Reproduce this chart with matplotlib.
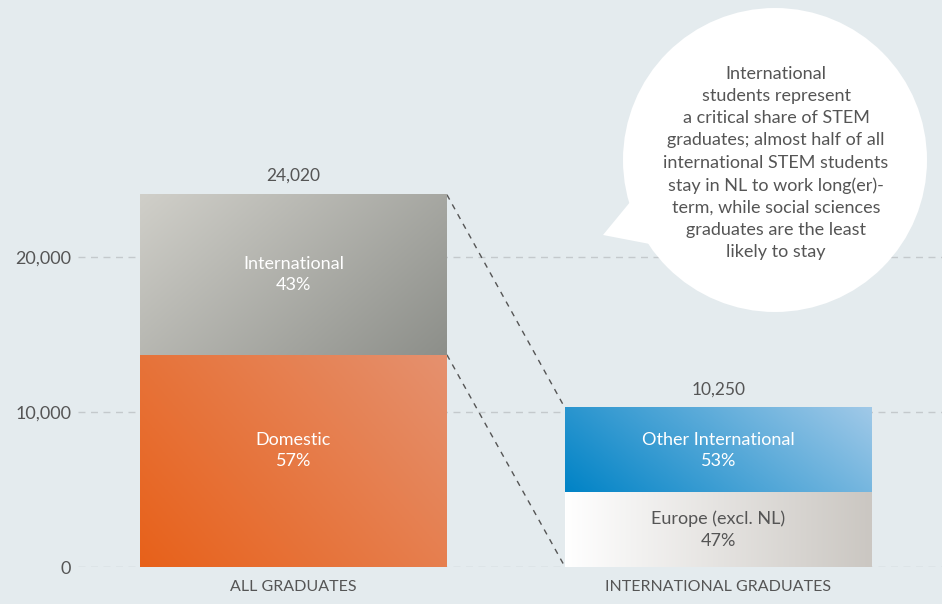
import numpy as np
import matplotlib.pyplot as plt
from matplotlib.patches import Ellipse, Polygon
from matplotlib.colors import LinearSegmentedColormap

plt.rcParams['font.family'] = ['Lato', 'DejaVu Sans']

categories = ["ALL GRADUATES", "INTERNATIONAL GRADUATES"]
totals = [24020, 10250]
bottom_labels = ["Domestic", "Europe (excl. NL)"]
top_labels = ["International", "Other International"]
bottom_share = [57, 47]
top_share = [43, 53]
yticks = [0, 10000, 20000]
note = ("International\nstudents represent\na critical share of STEM\n"
        "graduates; almost half of all\ninternational STEM students\n"
        "stay in NL to work long(er)-\nterm, while social sciences\n"
        "graduates are the least\nlikely to stay")

bg = "#e4ebee"
txt = "#555555"
width = 0.722

fig = plt.figure(figsize=(9.42, 6.04), dpi=100, facecolor=bg)
ax = fig.add_axes([78/942, 37/604, 864/942, 567/604])
ax.set_facecolor(bg)
ax.set_xlim(-0.507, -0.507 + 864/425)
ax.set_ylim(0, 567/155*10000)
for s in ax.spines.values():
    s.set_visible(False)
ax.set_xticks([])
ax.set_yticks(yticks)
ax.set_yticklabels([f"{v:,}" for v in yticks], color=txt, fontsize=13)
ax.tick_params(axis='y', length=0, pad=5)
for v in yticks:
    ax.axhline(v, color="#c4c9cc", lw=1, ls=(0, (5, 4)), zorder=0)


def grad_bar(x0, y0, w, h, c0, c1, direction):
    n = 200
    xx, yy = np.meshgrid(np.linspace(0, 1, n), np.linspace(0, 1, n))
    dx, dy = direction
    t = xx * dx + yy * dy
    t = (t - t.min()) / (t.max() - t.min())
    cmap = LinearSegmentedColormap.from_list("g", [c0, c1])
    ax.imshow(t, cmap=cmap, extent=[x0, x0 + w, y0, y0 + h], origin='lower',
              aspect='auto', zorder=2, interpolation='bilinear')


grads = [
    (("#e8611a", "#e5916f", (1, 0.6)), ("#d0cfc9", "#8d8f8a", (1, -0.6))),
    (("#ffffff", "#cbc7c2", (1, 0)), ("#0083c6", "#a0c9e8", (1, 0.35))),
]
inner_col = [("white", "white"), (txt, "white")]

# label heights: segment centres; the domestic label sits level with "Other International"
mids = []
for i, tot in enumerate(totals):
    b = tot * bottom_share[i] / 100
    mids.append((b / 2, b + (tot - b) / 2))
label_y = [(mids[1][1], mids[0][1]), mids[1]]

for i, tot in enumerate(totals):
    b = tot * bottom_share[i] / 100
    x0 = i - width / 2
    (c0, c1, d0), (c2, c3, d1) = grads[i]
    grad_bar(x0, 0, width, b, c0, c1, d0)
    grad_bar(x0, b, width, tot - b, c2, c3, d1)
    ax.text(i, label_y[i][0], f"{bottom_labels[i]}\n{bottom_share[i]}%", ha='center',
            va='center', color=inner_col[i][0], fontsize=13, linespacing=1.4, zorder=3)
    ax.text(i, label_y[i][1], f"{top_labels[i]}\n{top_share[i]}%", ha='center',
            va='center', color=inner_col[i][1], fontsize=13, linespacing=1.4, zorder=3)
    ax.text(i, tot + 700, f"{tot:,}", ha='center', va='bottom', color=txt, fontsize=12.5)
    ax.text(i, -1300, categories[i], ha='center', va='center', color=txt, fontsize=11.5)

# connector lines
b0 = totals[0] * bottom_share[0] / 100
ax.plot([width / 2, 1 - width / 2], [totals[0], totals[1]], color="#555555", lw=1,
        ls=(0, (4, 4)), zorder=1)
ax.plot([width / 2, 1 - width / 2], [b0, 0], color="#555555", lw=1,
        ls=(0, (4, 4)), zorder=1)

# speech bubble
W, H = 942, 604
cx, cy, r = 775 / W, 1 - 160 / H, 152
tail = Polygon([(603 / W, 1 - 235 / H), (640 / W, 1 - 190 / H), (655 / W, 1 - 245 / H)],
               closed=True, transform=fig.transFigure, facecolor="white", edgecolor="none")
fig.patches.append(tail)
fig.patches.append(Ellipse((cx, cy), 2 * r / W, 2 * r / H, transform=fig.transFigure,
                           facecolor="white", edgecolor="none"))
fig.text(776 / W, 1 - 163 / H, note, ha='center', va='center', color=txt, fontsize=13,
         linespacing=1.47)

fig.savefig("out.png", dpi=100, facecolor=bg)
